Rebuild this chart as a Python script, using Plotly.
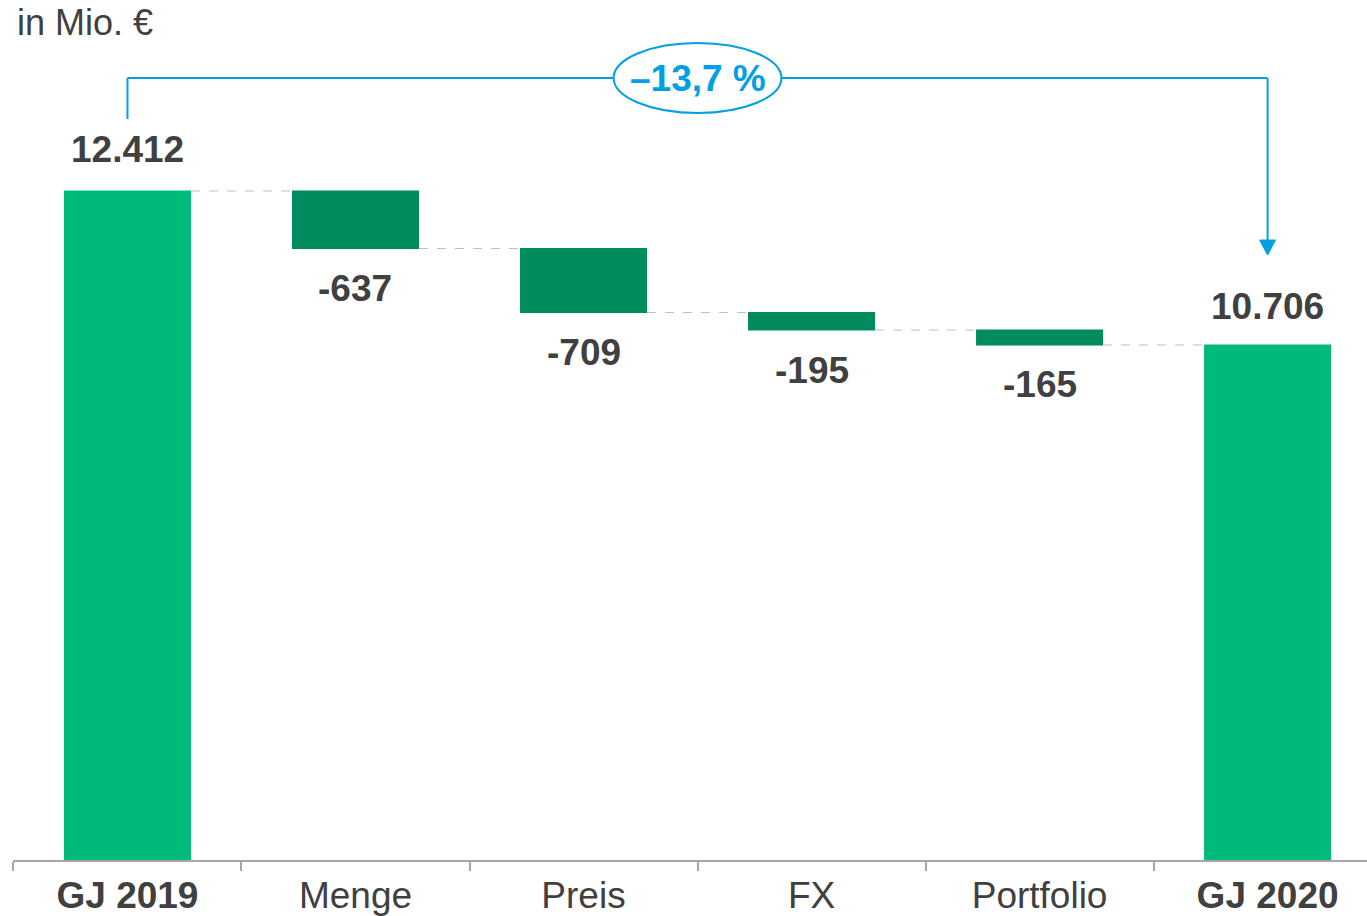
import plotly.graph_objects as go

# ---- data ----
categories = ["GJ 2019", "Menge", "Preis", "FX", "Portfolio", "GJ 2020"]
tick_labels = ["<b>GJ 2019</b>", "Menge", "Preis", "FX", "Portfolio", "<b>GJ 2020</b>"]
measures = ["absolute", "relative", "relative", "relative", "relative", "total"]
values = [12412, -637, -709, -195, -165, 0]
value_labels = ["12.412", "-637", "-709", "-195", "-165", "10.706"]
change_label = "–13,7 %"
unit_label = "in Mio. €"

TOTAL_C = "#00BA7C"
DEC_C = "#008C5F"
TEXT_C = "#404040"
BLUE = "#00A0E3"
AXIS_C = "#A6A6A6"
FONT = "Liberation Sans, Arial, sans-serif"

fig = go.Figure(go.Waterfall(
    x=categories,
    y=values,
    measure=measures,
    width=0.557,
    textinfo="none",
    hoverinfo="skip",
    totals=dict(marker=dict(color=TOTAL_C, line=dict(width=0))),
    decreasing=dict(marker=dict(color=DEC_C, line=dict(width=0))),
    increasing=dict(marker=dict(color=TOTAL_C, line=dict(width=0))),
    connector=dict(mode="between", line=dict(color="#BFBFBF", width=1, dash="dash")),
))

# value labels computed from the running total
annotations = []
running = 0
for i, (m, v, lab) in enumerate(zip(measures, values, value_labels)):
    if m == "absolute":
        running = v
        shift = 41
    elif m == "relative":
        running += v
        shift = -40
    else:
        shift = 38
    annotations.append(dict(x=categories[i], y=running, text=f"<b>{lab}</b>",
                            yshift=shift, showarrow=False, yanchor="middle",
                            font=dict(size=37, color=TEXT_C, family=FONT)))

annotations.append(dict(xref="paper", yref="paper", x=0, y=1, xanchor="left", yanchor="top",
                        xshift=2, text=unit_label, showarrow=False,
                        font=dict(size=36, color=TEXT_C, family=FONT)))
annotations.append(dict(x=2.5, y=0.909, yref="paper", xanchor="center", yanchor="middle",
                        text=f"<b>{change_label}</b>",
                        showarrow=False, font=dict(size=37, color=BLUE, family=FONT)))

y_top = 0.9093
shapes = [
    dict(type="line", xref="x", yref="paper", x0=0, x1=0, y0=0.8616, y1=y_top,
         line=dict(color=BLUE, width=2)),
    dict(type="line", xref="x", yref="paper", x0=0, x1=5, y0=y_top, y1=y_top,
         line=dict(color=BLUE, width=2)),
    dict(type="line", xref="x", yref="paper", x0=5, x1=5, y0=y_top, y1=0.72,
         line=dict(color=BLUE, width=2)),
    dict(type="path", xref="x", yref="paper",
         path="M 4.965 0.7209 L 5.035 0.7209 L 5 0.7035 Z",
         fillcolor=BLUE, line=dict(color=BLUE, width=1)),
    dict(type="circle", xref="x", yref="paper", x0=2.132, x1=2.868, y0=0.8686, y1=0.95,
         fillcolor="white", line=dict(color=BLUE, width=2)),
]

fig.update_layout(
    width=1367, height=916,
    margin=dict(l=13, r=0, t=0, b=56),
    paper_bgcolor="white", plot_bgcolor="white",
    showlegend=False,
    font=dict(family=FONT, color=TEXT_C, size=36),
    annotations=annotations,
    shapes=shapes,
    xaxis=dict(
        type="category",
        categoryorder="array", categoryarray=categories,
        tickvals=categories, ticktext=tick_labels,
        range=[-0.502, 5.436],
        showline=True, linecolor=AXIS_C, linewidth=2,
        ticks="outside", tickson="boundaries", ticklen=9, tickwidth=2, tickcolor=AXIS_C,
        ticklabelstandoff=2,
        tickfont=dict(size=37, color=TEXT_C, family=FONT),
        showgrid=False, fixedrange=True, automargin=False,
    ),
    yaxis=dict(range=[5000, 14528], visible=False, showgrid=False, fixedrange=True),
)

fig.write_html("out.html",
               config={"displayModeBar": False, "staticPlot": True},
               post_script="document.body.style.margin='0';document.body.style.overflow='hidden';")
